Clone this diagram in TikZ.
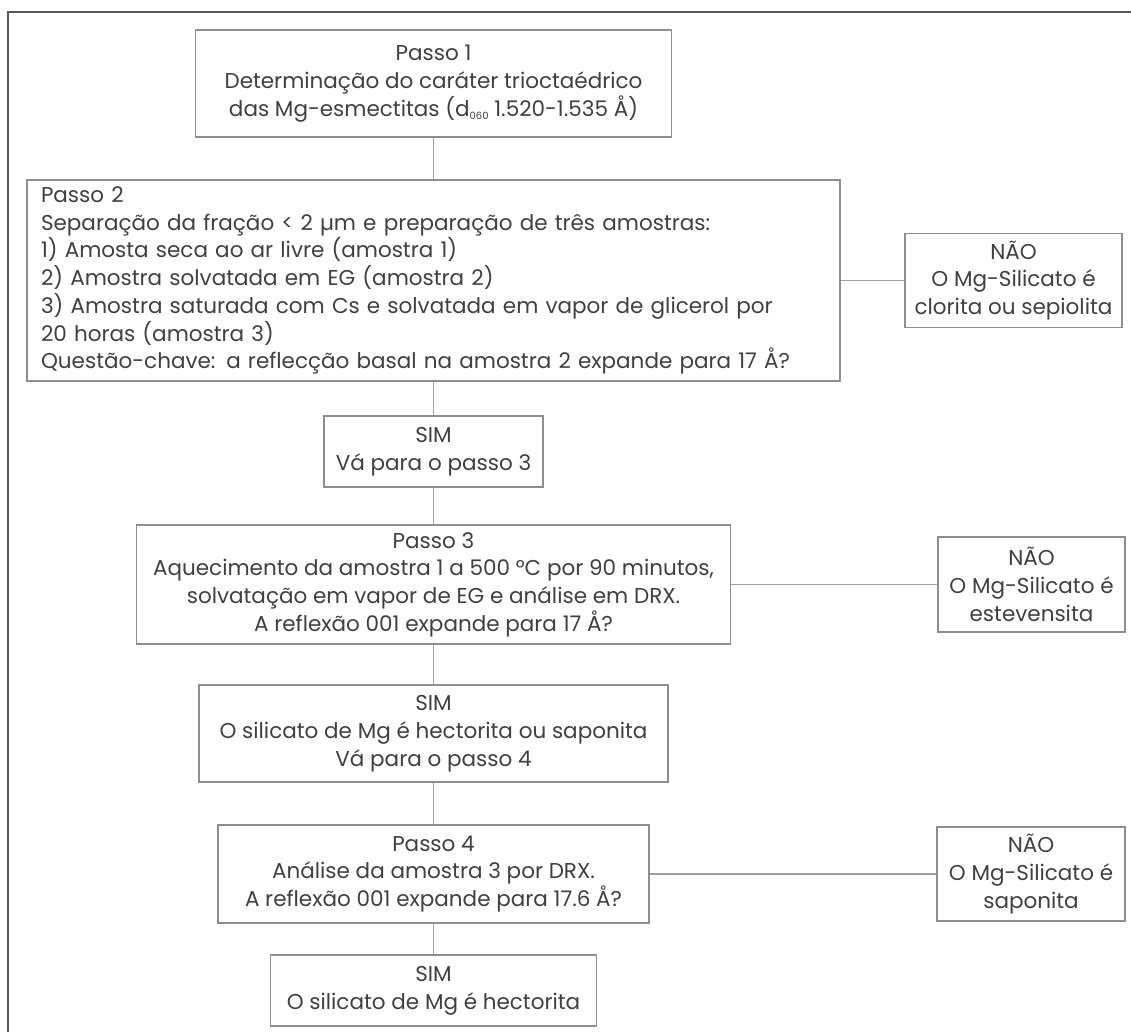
\documentclass[tikz,border=0pt]{standalone}
\usepackage{fontspec}
\setmainfont{Poppins}
\definecolor{linha}{HTML}{8E8E8E}
\definecolor{texto}{HTML}{404040}
\tikzset{
  caixa/.style={draw=linha, line width=1.5pt, text=texto, align=center, inner sep=0pt,
    font=\fontsize{21.5}{27.7}\selectfont},
  ligacao/.style={draw=linha!85, line width=1.2pt},
}
\newcommand{\subidx}[1]{{\fontsize{10}{10}\selectfont\raisebox{-3pt}{#1}}}

\begin{document}
\begin{tikzpicture}[x=1pt,y=-1pt]
\useasboundingbox (0,0) rectangle (1131,1032);

% moldura
\draw[line width=1.8pt, color=black!65] (8,1032) -- (8,12) -- (1131,12);

% coluna central
\node[caixa, minimum width=476, minimum height=107] (passo1) at (433.5,83.5)
  {Passo 1\\Determinação do caráter trioctaédrico\\das Mg-esmectitas (d\subidx{060} 1.520-1.535 Å)};
\node[caixa, align=left, text width=785, inner xsep=14, minimum height=201] (passo2) at (433.5,280.5)
  {Passo 2\\Separação da fração < 2 µm e preparação de três amostras:\\1) Amosta seca ao ar livre (amostra 1)\\2) Amostra solvatada em EG (amostra 2)\\3) Amostra saturada com Cs e solvatada em vapor de glicerol por\\20 horas (amostra 3)\\Questão-chave: a reflecção basal na amostra 2 expande para 17 Å?};
\node[caixa, minimum width=219, minimum height=71] (sim1) at (433.5,451.5)
  {SIM\\Vá para o passo 3};
\node[caixa, minimum width=594, minimum height=119] (passo3) at (433.5,584.5)
  {Passo 3\\Aquecimento da amostra 1 a 500 °C por 90 minutos,\\solvatação em vapor de EG e análise em DRX.\\A reflexão 001 expande para 17 Å?};
\node[caixa, minimum width=469, minimum height=97] (sim2) at (433.5,733.5)
  {SIM\\O silicato de Mg é hectorita ou saponita\\Vá para o passo 4};
\node[caixa, minimum width=431, minimum height=98] (passo4) at (433.5,874)
  {Passo 4\\Análise da amostra 3 por DRX.\\A reflexão 001 expande para 17.6 Å?};
\node[caixa, minimum width=326, minimum height=71] (sim3) at (433.5,990.5)
  {SIM\\O silicato de Mg é hectorita};

% coluna da direita
\node[caixa, minimum width=217, minimum height=94] (nao1) at (1013.5,280.5)
  {NÃO\\O Mg-Silicato é\\clorita ou sepiolita};
\node[caixa, minimum width=187, minimum height=95] (nao2) at (1031.5,584.5)
  {NÃO\\O Mg-Silicato é\\estevensita};
\node[caixa, minimum width=188, minimum height=94] (nao3) at (1031,874)
  {NÃO\\O Mg-Silicato é\\saponita};

% ligacoes
\draw[ligacao] (passo1) -- (passo2);
\draw[ligacao] (passo2) -- (sim1);
\draw[ligacao] (sim1) -- (passo3);
\draw[ligacao] (passo3) -- (sim2);
\draw[ligacao] (sim2) -- (passo4);
\draw[ligacao] (passo4) -- (sim3);
\draw[ligacao] (passo2) -- (nao1);
\draw[ligacao] (passo3) -- (nao2);
\draw[ligacao] (passo4) -- (nao3);

\end{tikzpicture}
\end{document}
